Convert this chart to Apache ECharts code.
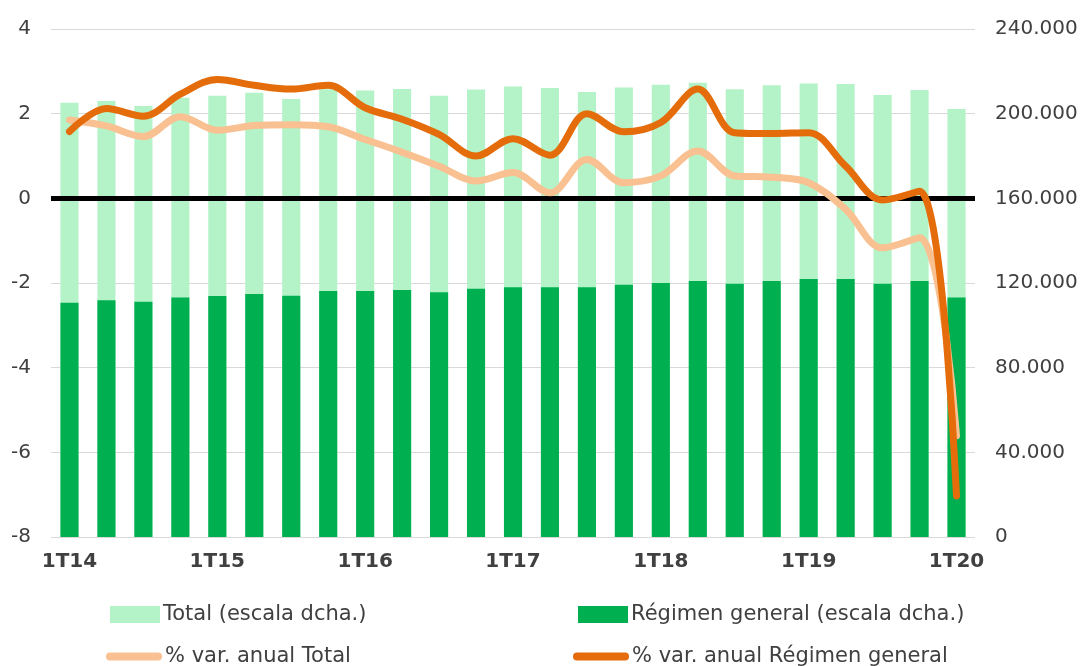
<!DOCTYPE html>
<html>
<head>
<meta charset="utf-8">
<script src="https://cdn.jsdelivr.net/npm/echarts@6/dist/echarts.min.js"></script>
<style>
html,body{margin:0;padding:0;background:#fff;}
#c{width:1083px;height:666px;}
</style>
</head>
<body>
<div id="c"></div>
<script>
const categories = ['1T14','2T14','3T14','4T14','1T15','2T15','3T15','4T15','1T16','2T16','3T16','4T16','1T17','2T17','3T17','4T17','1T18','2T18','3T18','4T18','1T19','2T19','3T19','4T19','1T20'];
const totalAfil = [205200, 206000, 203600, 207500, 208500, 209900, 206900, 211500, 211000, 211700, 208500, 211400, 212800, 212100, 210200, 212400, 213700, 214600, 211500, 213400, 214300, 214000, 208800, 211200, 202200];
const regimenGeneral = [110700, 111800, 111200, 113200, 113900, 114800, 114000, 116200, 116200, 116700, 115600, 117300, 118000, 118000, 118000, 119200, 120000, 121000, 119700, 121000, 121900, 121900, 119700, 121000, 113200];
const varTotal = [1.85, 1.71, 1.46, 1.93, 1.61, 1.72, 1.74, 1.69, 1.39, 1.09, 0.76, 0.41, 0.61, 0.13, 0.92, 0.37, 0.53, 1.12, 0.53, 0.50, 0.37, -0.26, -1.17, -0.93, -5.61];
const varRegimen = [1.58, 2.12, 1.94, 2.46, 2.81, 2.67, 2.58, 2.67, 2.14, 1.87, 1.51, 1.00, 1.41, 1.02, 2.00, 1.57, 1.79, 2.58, 1.55, 1.53, 1.55, 0.76, -0.04, 0.17, -7.03];
const names = ['Total (escala dcha.)', 'Régimen general (escala dcha.)', '% var. anual Total', '% var. anual Régimen general'];

const FONT = 'DejaVu Sans';
const TXT = '#404040';
const lineIcon = 'path://M4,0 H52 A4,4 0 0 1 52,8 H4 A4,4 0 0 1 4,0 Z';

const chart = echarts.init(document.getElementById('c'), null, {renderer: 'canvas'});
function legendAt(name, left, top, icon, w, h) {
  return {
    data: [name], left: left, top: top, icon: icon, itemWidth: w, itemHeight: h,
    itemGap: 0, padding: 0, selectedMode: false,
    textStyle: {fontFamily: FONT, fontSize: 21, color: TXT, padding: [0, 0, 0, -2]}
  };
}
chart.setOption({
  animation: false,
  textStyle: {fontFamily: FONT},
  grid: {left: 51, right: 108, top: 29, bottom: 129, containLabel: false},
  legend: [
    legendAt(names[0], 110, 604, 'rect', 50, 17),
    legendAt(names[1], 578, 604, 'rect', 50, 17),
    legendAt(names[2], 106, 646, lineIcon, 56, 8),
    legendAt(names[3], 573, 646, lineIcon, 56, 8)
  ],
  xAxis: {
    type: 'category', data: categories,
    axisLine: {show: false}, axisTick: {show: false},
    axisLabel: {interval: 3, fontFamily: FONT, fontSize: 20, fontWeight: 'bold', color: TXT, margin: 15}
  },
  yAxis: [
    {
      type: 'value', min: -8, max: 4, interval: 2, position: 'left',
      axisLine: {show: false}, axisTick: {show: false},
      axisLabel: {fontFamily: FONT, fontSize: 20, color: TXT, margin: 20},
      splitLine: {show: true, lineStyle: {color: '#d9d9d9', width: 1}}
    },
    {
      type: 'value', min: 0, max: 240000, interval: 40000, position: 'right',
      axisLine: {show: false}, axisTick: {show: false},
      axisLabel: {fontFamily: FONT, fontSize: 20, color: TXT, margin: 20,
        formatter: v => v === 0 ? '0' : (v / 1000) + '.000'},
      splitLine: {show: false}
    }
  ],
  series: [
    {
      name: names[0], type: 'bar', yAxisIndex: 1, data: totalAfil,
      barWidth: '49%', barGap: '-100%', color: '#b4f2c8', itemStyle: {color: '#b4f2c8'}, z: 1
    },
    {
      name: names[1], type: 'bar', yAxisIndex: 1, data: regimenGeneral,
      barWidth: '49%', barGap: '-100%', color: '#00b050', itemStyle: {color: '#00b050'}, z: 2
    },
    {
      name: names[2], type: 'line', yAxisIndex: 0, data: varTotal, smooth: 0.35,
      symbol: 'none', showSymbol: false, color: '#f9c191',
      itemStyle: {color: '#f9c191'},
      lineStyle: {color: '#f9c191', width: 7, cap: 'round', join: 'round'}, z: 4,
      markLine: {
        silent: true, symbol: 'none', label: {show: false},
        lineStyle: {color: '#000', width: 5, type: 'solid'},
        data: [{yAxis: 0}], z: 3
      }
    },
    {
      name: names[3], type: 'line', yAxisIndex: 0, data: varRegimen, smooth: 0.35,
      symbol: 'none', showSymbol: false, color: '#e46c0a',
      itemStyle: {color: '#e46c0a'},
      lineStyle: {color: '#e46c0a', width: 7, cap: 'round', join: 'round'}, z: 5
    }
  ]
});
</script>
</body>
</html>
